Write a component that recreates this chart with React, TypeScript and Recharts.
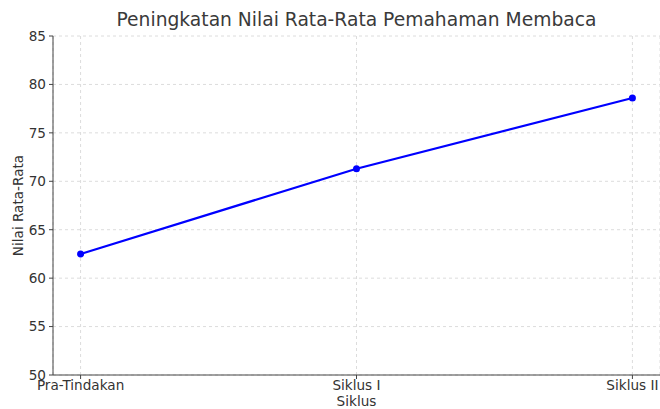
import React from "react";
import { LineChart, Line, XAxis, YAxis, CartesianGrid } from "recharts";

const categories = ["Pra-Tindakan", "Siklus I", "Siklus II"];
const averageScores = [62.5, 71.3, 78.6];
const yTicks = [50, 55, 60, 65, 70, 75, 80, 85];
const chartTitle = "Peningkatan Nilai Rata-Rata Pemahaman Membaca";
const xLabel = "Siklus";
const yLabel = "Nilai Rata-Rata";

const data = categories.map((c, i) => ({ idx: i, name: c, value: averageScores[i] }));

const FONT = "'DejaVu Sans', sans-serif";

export default function App() {
  return (
    <div style={{ position: "absolute", left: 0, top: 0, width: 660, height: 409, background: "#fff", fontFamily: FONT }}>
      <div
        style={{
          position: "absolute",
          left: 53,
          width: 607,
          top: 8,
          textAlign: "center",
          fontSize: 18.7,
          color: "#3a3a3a",
          lineHeight: "24px",
          whiteSpace: "nowrap",
        }}
      >
        {chartTitle}
      </div>
      <LineChart
        width={660}
        height={409}
        data={data}
        margin={{ top: 36, right: 0, left: 0, bottom: 0 }}
        style={{ fontFamily: FONT }}
      >
        <CartesianGrid stroke="#dcdcdc" strokeDasharray="3 3" />
        <XAxis
          dataKey="idx"
          type="number"
          domain={[-0.1, 2.1]}
          ticks={[0, 1, 2]}
          tickFormatter={(v: number) => categories[v]}
          height={34}
          tickSize={4}
          tickMargin={1}
          interval={0}
          stroke="#444"
          tick={{ fill: "#333", fontSize: 13.6 }}
          label={{ value: xLabel, position: "insideBottom", offset: 3, fill: "#333", fontSize: 13.6 }}
        />
        <YAxis
          type="number"
          domain={[50, 85]}
          ticks={yTicks}
          width={53}
          tickSize={4}
          tickMargin={3}
          interval={0}
          stroke="#444"
          tick={{ fill: "#333", fontSize: 13.6 }}
          label={{
            content: (props: any) => {
              const vb = props.viewBox || { x: 0, y: 36, width: 53, height: 339 };
              const cy = vb.y + vb.height / 2;
              return (
                <text
                  x={18}
                  y={cy}
                  transform={`rotate(-90, 18, ${cy})`}
                  textAnchor="middle"
                  dominantBaseline="central"
                  fill="#333"
                  fontSize={13.6}
                  fontFamily={FONT}
                >
                  {yLabel}
                </text>
              );
            },
          }}
        />
        <Line
          type="linear"
          dataKey="value"
          stroke="#0000ff"
          strokeWidth={2.2}
          dot={{ r: 3.5, fill: "#0000ff", stroke: "#0000ff", strokeWidth: 0 }}
          activeDot={false}
          isAnimationActive={false}
        />
      </LineChart>
    </div>
  );
}
